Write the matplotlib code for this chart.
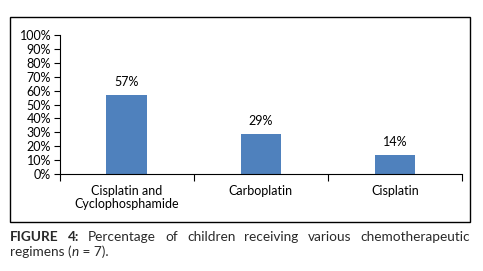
import matplotlib
matplotlib.use("Agg")
import matplotlib.pyplot as plt
from matplotlib.patches import Rectangle

categories = ["Cisplatin and\nCyclophosphamide", "Carboplatin", "Cisplatin"]
values = [57, 29, 14]
labels = ["57%", "29%", "14%"]
yticks = list(range(0, 101, 10))

FONT = "Lato"
W, H = 483, 271
fig = plt.figure(figsize=(W/100, H/100), dpi=100)

# outer frame
fig.patches.append(Rectangle((10/W, 1-222/H), 460/W, 205/H, transform=fig.transFigure,
                             fill=False, edgecolor="black", linewidth=1.0))

ax = fig.add_axes([59.5/W, 1-174/H, (462-59.5)/W, (174-35)/H])
x = list(range(len(categories)))
ax.bar(x, values, width=0.3, color="#4F81BD")
ax.set_xlim(-0.5, 2.5)
ax.set_ylim(0, 100)
ax.set_yticks(yticks)
ax.set_yticklabels([f"{t}%" for t in yticks], fontfamily=FONT, fontsize=9)
ax.set_xticks([-0.5, 0.5, 1.5, 2.5], minor=False)
ax.set_xticklabels([])
ax.set_xticks(x, minor=True)
ax.set_xticklabels(categories, minor=True, fontfamily=FONT, fontsize=9, linespacing=1.05)
ax.tick_params(axis="x", which="minor", length=0, pad=8)
ax.tick_params(axis="x", which="major", length=5, direction="out", width=0.8)
ax.tick_params(axis="y", length=4, direction="out", width=0.8, pad=2)
for s in ["top", "right"]:
    ax.spines[s].set_visible(False)
for s in ["left", "bottom"]:
    ax.spines[s].set_linewidth(0.8)
for xi, v, l in zip(x, values, labels):
    ax.text(xi, v + 5, l, ha="center", va="bottom", fontfamily=FONT, fontsize=9)

# justified caption
fig.canvas.draw()
r = fig.canvas.get_renderer()
cap_color = "#2a2a2a"
left, right = 10, 470
words = [("FIGURE", "bold", "normal"), ("4:", "bold", "normal"), ("Percentage", "normal", "normal"),
         ("of", "normal", "normal"), ("children", "normal", "normal"), ("receiving", "normal", "normal"),
         ("various", "normal", "normal"), ("chemotherapeutic", "normal", "normal")]
ys = 1 - 237/H
texts = []
tot = 0
for w, wt, st in words:
    t = fig.text(0, ys, w, fontfamily=FONT, fontsize=9.8, fontweight=wt, fontstyle=st,
                 color=cap_color, va="center", ha="left")
    texts.append(t)
    tot += t.get_window_extent(r).width
gap = (right - left - tot) / (len(words) - 1)
cx = left
for t in texts:
    t.set_x(cx / W)
    cx += t.get_window_extent(r).width + gap

ys2 = 1 - 252/H
parts = [("regimens (", "normal"), ("n", "italic"), (" = 7).", "normal")]
cx = left
for s, st in parts:
    t = fig.text(cx / W, ys2, s, fontfamily=FONT, fontsize=9.8, fontstyle=st,
                 color=cap_color, va="center", ha="left")
    cx += t.get_window_extent(r).width

fig.savefig("out.png", dpi=100)
